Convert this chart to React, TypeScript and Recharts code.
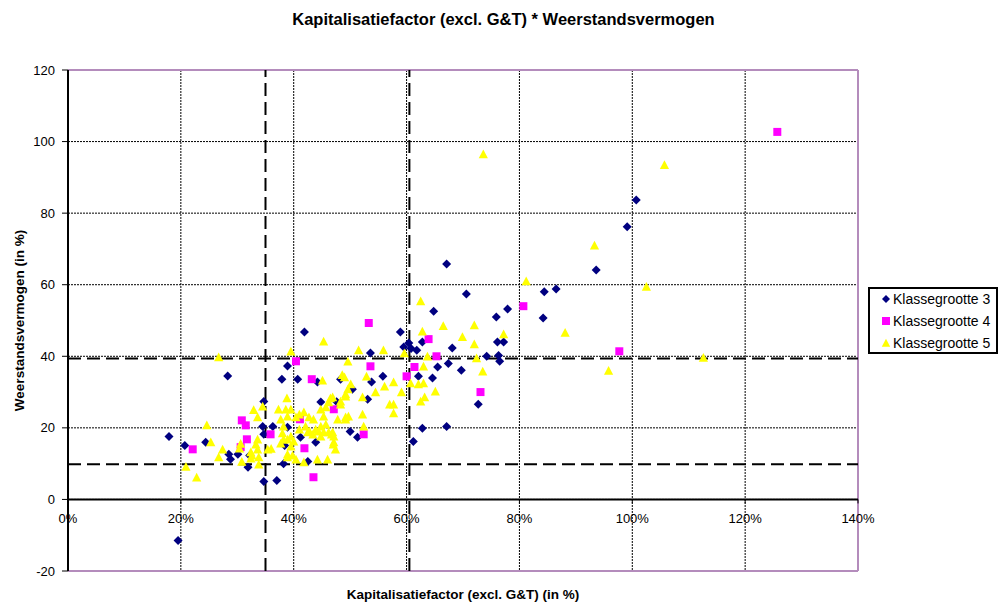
import React from 'react';
import { ScatterChart, Scatter, XAxis, YAxis, CartesianGrid, ReferenceLine, Legend } from 'recharts';

const TITLE = 'Kapitalisatiefactor (excl. G&T) * Weerstandsvermogen';
const X_TITLE = 'Kapitalisatiefactor (excl. G&T) (in %)';
const Y_TITLE = 'Weerstandsvermogen (in %)';
const SERIES_NAMES = ['Klassegrootte 3', 'Klassegrootte 4', 'Klassegrootte 5'];
const X_TICKS = [0, 20, 40, 60, 80, 100, 120, 140];
const Y_TICKS = [-20, 0, 20, 40, 60, 80, 100, 120];
const X_REF = [35.0, 60.5];
const Y_REF = [39.4, 9.8];

// Klassegrootte 3 : [kapitalisatiefactor %, weerstandsvermogen %]
const klasse3: [number, number][] = [
  [17.9, 17.6], [19.5, -11.5], [20.7, 15.1], [24.4, 16], [28.3, 34.5], [28.5, 12.6], [28.8, 11.2],
  [30.1, 12.6], [31.9, 9], [32.2, 12.3], [34.5, 20.4], [34.7, 27.4], [34.7, 18.2], [34.7, 5], [37, 5.3],
  [36.3, 20.4], [37.9, 33.6], [38.9, 37.3], [40.7, 33.6], [41.9, 46.8], [44.2, 32.8], [38.9, 20.2],
  [38.4, 15.1], [38.2, 10], [41.2, 17.4], [42.5, 10.6], [43.9, 16], [44.8, 27.2], [47.6, 27.3],
  [48.3, 33.6], [50, 19], [50.4, 30.8], [51.3, 17.4], [53.1, 28], [53.6, 40.9], [53.8, 32.8],
  [55.8, 34.4], [58.9, 46.8], [59.5, 42.6], [60.4, 43.7], [60.8, 42.2], [61.8, 41.7], [62.8, 44],
  [61.2, 16.2], [62.1, 34.4], [62.8, 19.9], [64.6, 33.9], [64.8, 52.6], [65.5, 37], [67.1, 65.8],
  [67.1, 20.4], [67.4, 38], [68.1, 42.3], [69.7, 36.1], [70.6, 57.4], [72.7, 26.6], [74.2, 40],
  [75.9, 51], [76.1, 44], [77.2, 44], [76.5, 38.6], [76.3, 40.2], [77.9, 53.2], [84.2, 50.7],
  [84.4, 58], [86.5, 58.8], [93.6, 64.1], [99.1, 76.2], [100.7, 83.7],
];

// Klassegrootte 4
const klasse4: [number, number][] = [
  [22.1, 14], [30.6, 14.6], [30.8, 22.1], [31.5, 20.7], [31.7, 16.8], [35.9, 18.2], [40.4, 38.6],
  [41.1, 22.4], [41.9, 14.3], [43.2, 33.6], [43.5, 6.2], [47.1, 25.2], [52.4, 18.2], [53.3, 49.3],
  [53.6, 37.2], [60, 34.4], [61.4, 37], [63.9, 44.8], [65.3, 40], [73.1, 30], [80.7, 54],
  [97.7, 41.4], [125.7, 102.7],
];

// Klassegrootte 5
const klasse5: [number, number][] = [
  [20.9, 9.2], [22.8, 6.2], [24.6, 20.8], [25.3, 16], [26.7, 39.8], [26.7, 11.8], [27.4, 14],
  [30.4, 14.3], [30.6, 15.6], [30.8, 10.6], [32.4, 13.2], [32.4, 11.5], [32.6, 12.3], [32.9, 25],
  [33.3, 15.4], [33.6, 16.8], [33.6, 14], [33.6, 23], [33.8, 11.8], [33.8, 9.8], [34.5, 26],
  [35.4, 14], [36, 14.2], [37.3, 25.2], [37.7, 22.4], [37.7, 15.7], [38, 18.5], [38.2, 20.4],
  [38.2, 16.8], [38.6, 25.2], [38.8, 28.3], [38.9, 23.2], [38.9, 16.8], [38.9, 12.6], [38.9, 11.8],
  [39.5, 41.4], [39.5, 25.2], [39.5, 17.6], [39.5, 14.8], [39.8, 12.3], [40, 16.2], [40.4, 23],
  [40.4, 11.2], [41, 23.8], [41, 19.6], [41.8, 24.4], [41.8, 10.4], [42.1, 20.4], [42.5, 18.8],
  [42.7, 23], [42.8, 19], [43.4, 18.2], [43.5, 22.4], [43.9, 19.6], [44.2, 11.2], [44.4, 19],
  [44.8, 25.2], [44.8, 20.4], [44.8, 17.6], [45.1, 33.3], [45.3, 44.2], [45.3, 23.2], [45.3, 18.8],
  [45.7, 25.8], [45.7, 21], [46, 11.2], [46.2, 27.2], [46.2, 18.8], [46.5, 28.3], [46.7, 18.2],
  [46.9, 28.6], [46.9, 18.8], [47, 15.4], [47.1, 16], [47.1, 17.6], [47.4, 14], [47.8, 22.4],
  [48.3, 27.4], [48.3, 26.6], [48.6, 34.8], [49, 34.2], [49.2, 29.4], [49.2, 28.8], [49.2, 23],
  [49.2, 22.4], [49.6, 38.6], [49.6, 30.8], [49.7, 23.2], [50.1, 32.2], [51.5, 41.7], [52.2, 28.6],
  [52.2, 23.8], [52.4, 20.4], [52.9, 34.4], [54.5, 30], [55.9, 41.7], [56.1, 31.6], [57, 26.6],
  [57.7, 32.8], [57.7, 26.6], [57.7, 24.1], [59.1, 30], [59.6, 40.9], [60.7, 32.5], [62.1, 32.2],
  [62.5, 55.4], [62.5, 27.4], [62.8, 47], [63, 37.2], [63, 32.5], [63.2, 28.6], [63.7, 40],
  [65.1, 30.2], [66.5, 48.5], [69.9, 45.4], [72, 48.7], [72, 43.4], [72.4, 39.5], [73.5, 35.8],
  [73.6, 96.5], [77.2, 46.2], [81.2, 61], [88.1, 46.6], [93.3, 71], [95.8, 36], [102.5, 59.5],
  [105.7, 93.5], [112.6, 39.6],
];

const W = 1007;
const H = 604;
const PLOT = { left: 68, top: 70, right: 858, bottom: 571 };
const Y_AXIS_W = 60;
const X_AXIS_H = 30;
const X_MIN = 0, X_MAX = 140, Y_MIN = -20, Y_MAX = 120;
const FONT = '"Liberation Sans", Arial, Helvetica, sans-serif';
const NAVY = '#000080';
const MAGENTA = '#FF00FF';
const YELLOW = '#FFFF00';
const BORDER = '#b48cbc';

const zeroY = PLOT.top + ((PLOT.bottom - PLOT.top) * (Y_MAX - 0)) / (Y_MAX - Y_MIN);

const toPoints = (arr: [number, number][]) => arr.map(([x, y]) => ({ x, y }));

const diamondPath = (cx: number, cy: number, r: number) =>
  `M${cx},${cy - r}L${cx + r},${cy}L${cx},${cy + r}L${cx - r},${cy}Z`;
const squarePath = (cx: number, cy: number, r: number) =>
  `M${cx - r},${cy - r}H${cx + r}V${cy + r}H${cx - r}Z`;
const trianglePath = (cx: number, cy: number, r: number) =>
  `M${cx},${cy - r}L${cx + r},${cy + r * 0.9}L${cx - r},${cy + r * 0.9}Z`;

const Diamond = (p: any) => <path d={diamondPath(p.cx, p.cy, 4.5)} fill={NAVY} />;
const Square = (p: any) => <path d={squarePath(p.cx, p.cy, 4)} fill={MAGENTA} />;
const Triangle = (p: any) => <path d={trianglePath(p.cx, p.cy, 4.6)} fill={YELLOW} />;

const XTick = (props: any) => {
  const { x, payload } = props;
  return (
    <g>
      <line x1={x} x2={x} y1={zeroY} y2={zeroY + 4} stroke="#000" strokeWidth={1} />
      <text x={x} y={zeroY + 23.5} textAnchor="middle" fontSize={13} fontFamily={FONT} fill="#000">
        {`${payload.value}%`}
      </text>
    </g>
  );
};

const LegendBox = () => {
  const rows = [12, 34, 56];
  const markers = [
    (cy: number) => <path d={diamondPath(18, cy, 4)} fill={NAVY} />,
    (cy: number) => <path d={squarePath(18, cy, 4)} fill={MAGENTA} />,
    (cy: number) => <path d={trianglePath(18, cy, 4.2)} fill={YELLOW} />,
  ];
  return (
    <svg width={130} height={67} style={{ display: 'block' }}>
      <rect x={1} y={1} width={128} height={65} fill="#fff" stroke="#000" strokeWidth={2} />
      {SERIES_NAMES.map((name, i) => (
        <g key={name}>
          {markers[i](rows[i])}
          <text x={25} y={rows[i]} dominantBaseline="central" fontSize={14} fontFamily={FONT} fill="#000">
            {name}
          </text>
        </g>
      ))}
    </svg>
  );
};

export default function App() {
  return (
    <div style={{ position: 'absolute', left: 0, top: 0, width: W, height: H, background: '#fff' }}>
      <ScatterChart
        width={W}
        height={H}
        margin={{
          top: PLOT.top,
          right: W - PLOT.right,
          bottom: H - PLOT.bottom - X_AXIS_H,
          left: PLOT.left - Y_AXIS_W,
        }}
      >
        <CartesianGrid stroke="#000" strokeDasharray="2 1" strokeWidth={1} />
        <XAxis
          type="number"
          dataKey="x"
          domain={[X_MIN, X_MAX]}
          ticks={X_TICKS}
          height={X_AXIS_H}
          axisLine={false}
          tickLine={false}
          tickSize={0}
          tickMargin={0}
          tick={<XTick />}
          interval={0}
          allowDataOverflow
        />
        <YAxis
          type="number"
          dataKey="y"
          domain={[Y_MIN, Y_MAX]}
          ticks={Y_TICKS}
          width={Y_AXIS_W}
          axisLine={{ stroke: '#000', strokeWidth: 2 }}
          tickLine={{ stroke: '#000' }}
          tickSize={6}
          tickMargin={7}
          interval={0}
          tick={{ fontSize: 13, fontFamily: FONT, fill: '#000' }}
          allowDataOverflow
        />
        <ReferenceLine y={Y_MAX} stroke={BORDER} strokeWidth={2} />
        <ReferenceLine y={Y_MIN} stroke={BORDER} strokeWidth={2} />
        <ReferenceLine x={X_MAX} stroke={BORDER} strokeWidth={2} />
        <ReferenceLine y={0} stroke="#000" strokeWidth={2} />
        {X_REF.map((v) => (
          <ReferenceLine key={`xr${v}`} x={v} stroke="#000" strokeWidth={2} strokeDasharray="13 6" />
        ))}
        {Y_REF.map((v) => (
          <ReferenceLine key={`yr${v}`} y={v} stroke="#000" strokeWidth={2} strokeDasharray="13 6" />
        ))}
        <Scatter name={SERIES_NAMES[0]} data={toPoints(klasse3)} shape={Diamond} isAnimationActive={false} />
        <Scatter name={SERIES_NAMES[1]} data={toPoints(klasse4)} shape={Square} isAnimationActive={false} />
        <Scatter name={SERIES_NAMES[2]} data={toPoints(klasse5)} shape={Triangle} isAnimationActive={false} />
        <Legend
          layout="vertical"
          align="center"
          verticalAlign="middle"
          wrapperStyle={{ left: 868, top: 287, width: 130, height: 67 }}
          content={() => <LegendBox />}
        />
        <text x={503.5} y={25} textAnchor="middle" fontSize={16.5} fontWeight="bold" fontFamily={FONT} fill="#000">
          {TITLE}
        </text>
        <text x={(PLOT.left + PLOT.right) / 2} y={599} textAnchor="middle" fontSize={13.5} fontWeight="bold" fontFamily={FONT} fill="#000">
          {X_TITLE}
        </text>
        <text
          x={19}
          y={(PLOT.top + PLOT.bottom) / 2}
          transform={`rotate(-90, 19, ${(PLOT.top + PLOT.bottom) / 2})`}
          textAnchor="middle"
          dominantBaseline="central"
          fontSize={13.5}
          fontWeight="bold"
          fontFamily={FONT}
          fill="#000"
        >
          {Y_TITLE}
        </text>
      </ScatterChart>
    </div>
  );
}
